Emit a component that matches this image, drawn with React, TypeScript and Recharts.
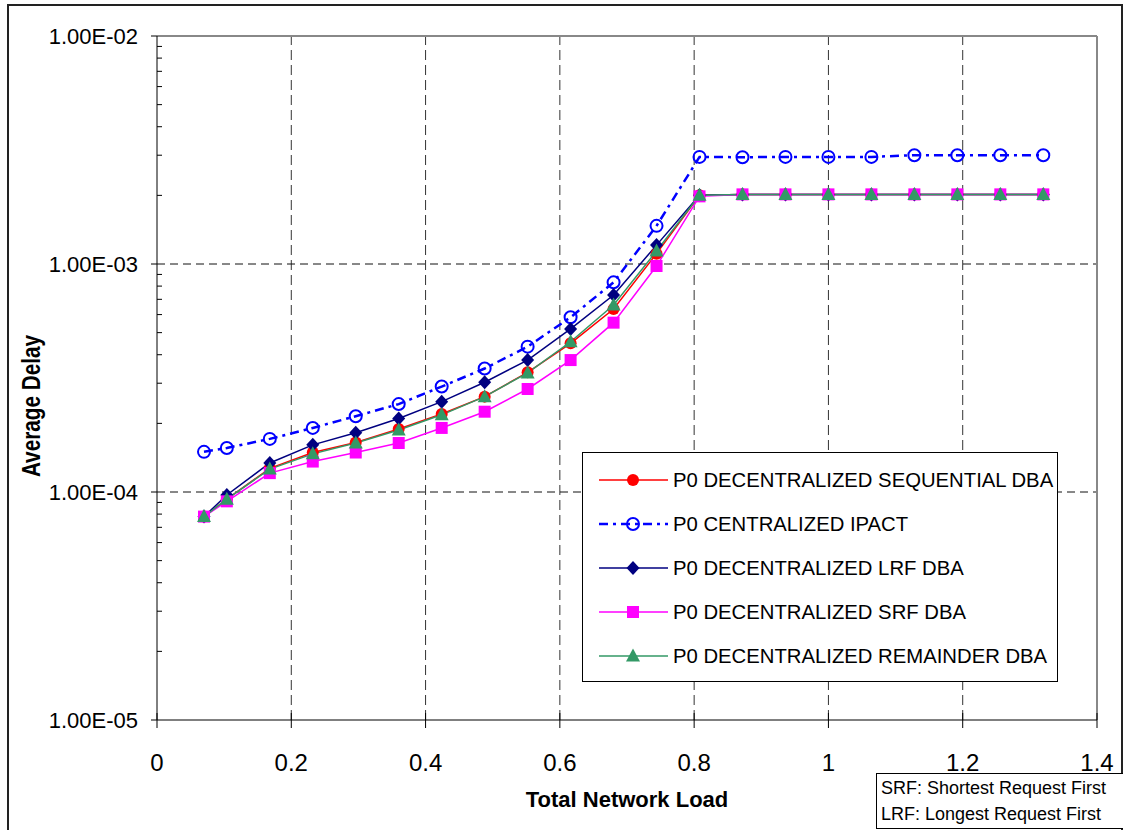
import React from "react";
import {
  LineChart,
  Line,
  XAxis,
  YAxis,
  Legend,
  ReferenceLine,
} from "recharts";

const FONT = '"Liberation Sans", Arial, sans-serif';

// total network load (x)
const loads = [
  0.07, 0.104, 0.168, 0.232, 0.296, 0.36, 0.424, 0.488, 0.552, 0.616, 0.68,
  0.744, 0.808, 0.872, 0.936, 1.0, 1.064, 1.128, 1.192, 1.256, 1.32,
];

// average delay per series
const sequential = [
  7.8e-5, 9.3e-5, 1.27e-4, 1.49e-4, 1.65e-4, 1.89e-4, 2.2e-4, 2.62e-4, 3.35e-4,
  4.49e-4, 6.35e-4, 1.11e-3, 2.0e-3, 2.02e-3, 2.02e-3, 2.02e-3, 2.02e-3,
  2.02e-3, 2.02e-3, 2.02e-3, 2.02e-3,
];
const ipact = [
  1.5e-4, 1.56e-4, 1.71e-4, 1.91e-4, 2.15e-4, 2.43e-4, 2.9e-4, 3.48e-4, 4.34e-4,
  5.84e-4, 8.31e-4, 1.47e-3, 2.95e-3, 2.94e-3, 2.95e-3, 2.95e-3, 2.95e-3,
  3.0e-3, 3.0e-3, 3.0e-3, 3.0e-3,
];
const lrf = [
  7.8e-5, 9.7e-5, 1.34e-4, 1.61e-4, 1.82e-4, 2.1e-4, 2.49e-4, 3.03e-4, 3.79e-4,
  5.19e-4, 7.31e-4, 1.21e-3, 2.0e-3, 2.02e-3, 2.02e-3, 2.02e-3, 2.02e-3,
  2.02e-3, 2.02e-3, 2.02e-3, 2.02e-3,
];
const srf = [
  7.8e-5, 9.1e-5, 1.21e-4, 1.36e-4, 1.49e-4, 1.64e-4, 1.91e-4, 2.25e-4, 2.83e-4,
  3.79e-4, 5.53e-4, 9.8e-4, 1.98e-3, 2.02e-3, 2.02e-3, 2.02e-3, 2.02e-3,
  2.02e-3, 2.02e-3, 2.02e-3, 2.02e-3,
];
const remainder = [
  7.8e-5, 9.3e-5, 1.26e-4, 1.47e-4, 1.64e-4, 1.87e-4, 2.18e-4, 2.62e-4, 3.33e-4,
  4.56e-4, 6.61e-4, 1.14e-3, 2.0e-3, 2.02e-3, 2.02e-3, 2.02e-3, 2.02e-3,
  2.02e-3, 2.02e-3, 2.02e-3, 2.02e-3,
];

const xTicks = [0, 0.2, 0.4, 0.6, 0.8, 1, 1.2, 1.4];
const xGrid = [0.2, 0.4, 0.6, 0.8, 1, 1.2];
const yTicks = [1e-5, 1e-4, 1e-3, 1e-2];
const yGrid = [1e-4, 1e-3];
const yMinor = [1e-5, 1e-4, 1e-3].flatMap((d) =>
  [2, 3, 4, 5, 6, 7, 8, 9].map((m) => m * d)
);
const yAllTicks = [...yTicks, ...yMinor].sort((a, b) => a - b);

const data = loads.map((x, i) => ({
  x,
  seq: sequential[i],
  ipact: ipact[i],
  lrf: lrf[i],
  srf: srf[i],
  rem: remainder[i],
}));

type Shape = "dot" | "ring" | "diamond" | "square" | "triangle";

const series: {
  key: string;
  name: string;
  color: string;
  shape: Shape;
  dash?: string;
  width: number;
}[] = [
  { key: "seq", name: "P0 DECENTRALIZED SEQUENTIAL DBA", color: "#ff0000", shape: "dot", width: 1.5 },
  { key: "ipact", name: "P0 CENTRALIZED IPACT", color: "#0000ff", shape: "ring", dash: "9 5 3 5", width: 2.5 },
  { key: "lrf", name: "P0 DECENTRALIZED LRF DBA", color: "#000080", shape: "diamond", width: 1.5 },
  { key: "srf", name: "P0 DECENTRALIZED SRF DBA", color: "#ff00ff", shape: "square", width: 1.5 },
  { key: "rem", name: "P0 DECENTRALIZED REMAINDER DBA", color: "#339966", shape: "triangle", width: 1.5 },
];

function Marker({ shape, color, cx, cy }: { shape: Shape; color: string; cx: number; cy: number }) {
  switch (shape) {
    case "dot":
      return <circle cx={cx} cy={cy} r={6} fill={color} />;
    case "ring":
      return <circle cx={cx} cy={cy} r={6} fill="none" stroke={color} strokeWidth={2} />;
    case "diamond":
      return <polygon points={`${cx},${cy - 7} ${cx + 6.5},${cy} ${cx},${cy + 7} ${cx - 6.5},${cy}`} fill={color} />;
    case "square":
      return <rect x={cx - 6} y={cy - 6} width={12} height={12} fill={color} />;
    default:
      return <polygon points={`${cx},${cy - 7.5} ${cx + 7},${cy + 5.5} ${cx - 7},${cy + 5.5}`} fill={color} />;
  }
}

const fmtExp = (v: number) => {
  const [m, e] = v.toExponential(2).split("e");
  const n = parseInt(e, 10);
  return `${m.toUpperCase()}E${n < 0 ? "-" : "+"}${String(Math.abs(n)).padStart(2, "0")}`;
};

// y tick: majors get a label and an outside tick, minors only a short inside tick
const Y_TICK = 6;
const Y_GAP = 13;
function YTick(props: any) {
  const { x, y, payload } = props;
  const v = payload.value;
  const ax = x + Y_TICK + Y_GAP;
  const major = yTicks.some((t) => Math.abs(t - v) / t < 1e-9);
  if (!major) {
    return <line x1={ax} x2={ax + 5} y1={y} y2={y} stroke="#000" strokeWidth={1} />;
  }
  return (
    <g>
      <line x1={ax - Y_TICK} x2={ax} y1={y} y2={y} stroke="#000" strokeWidth={1} />
      <text x={x} y={y} dy="0.355em" textAnchor="end" fontSize={22} fontFamily={FONT} fill="#000">
        {fmtExp(v)}
      </text>
    </g>
  );
}

// x tick: crosses the axis line, label below
const X_TICK = 8;
const X_GAP = 26;
function XTick(props: any) {
  const { x, y, payload } = props;
  const ay = y - X_TICK - X_GAP;
  return (
    <g>
      <line x1={x} x2={x} y1={ay - 7} y2={ay + X_TICK} stroke="#000" strokeWidth={1} />
      <text x={x} y={y} dy="0.71em" textAnchor="middle" fontSize={24} fontFamily={FONT} fill="#000">
        {payload.value}
      </text>
    </g>
  );
}

function LegendBox() {
  return (
    <div
      style={{
        width: 476,
        height: 230,
        boxSizing: "border-box",
        border: "1.5px solid #000",
        background: "#fff",
        paddingTop: 5,
        fontFamily: FONT,
      }}
    >
      {series.map((s) => (
        <div key={s.key} style={{ display: "flex", alignItems: "center", height: 44, whiteSpace: "nowrap" }}>
          <svg width={90} height={20} style={{ marginLeft: 16, flexShrink: 0 }}>
            <line x1={0} y1={10} x2={69} y2={10} stroke={s.color} strokeWidth={s.width} strokeDasharray={s.dash} />
            <Marker shape={s.shape} color={s.color} cx={34} cy={10} />
          </svg>
          <span style={{ fontSize: 20.3, color: "#000", marginLeft: -16 }}>{s.name}</span>
        </div>
      ))}
    </div>
  );
}

export default function App() {
  return (
    <div style={{ position: "absolute", left: 0, top: 0, width: 1123, height: 830, overflow: "hidden", background: "#fff" }}>
      <div
        style={{
          position: "absolute",
          left: 7,
          top: 4,
          width: 1116,
          height: 840,
          boxSizing: "border-box",
          border: "2px solid #222",
        }}
      />
      <div style={{ position: "absolute", left: 0, top: 0 }}>
        <LineChart width={1123} height={830} data={data} margin={{ top: 36, right: 26, bottom: 20, left: 27 }}>
          <XAxis
            dataKey="x"
            type="number"
            domain={[0, 1.4]}
            ticks={xTicks}
            interval={0}
            allowDataOverflow
            stroke="#000"
            tickSize={X_TICK}
            tickMargin={X_GAP}
            tickLine={false}
            height={90}
            tick={<XTick />}
            label={{
              content: (p: any) => {
                const vb = p.viewBox;
                return (
                  <text x={vb.x + vb.width / 2} y={vb.y + 87} textAnchor="middle" fontSize={22} fontWeight="bold" fontFamily={FONT} fill="#000">
                    Total Network Load
                  </text>
                );
              },
            }}
          />
          <YAxis
            yAxisId="main"
            type="number"
            scale="log"
            domain={[1e-5, 1e-2]}
            ticks={yAllTicks}
            interval={0}
            allowDataOverflow
            width={130}
            stroke="#000"
            tickSize={Y_TICK}
            tickMargin={Y_GAP}
            tickLine={false}
            tick={<YTick />}
            label={{
              content: () => {
                const cx = 40;
                const cy = 406;
                return (
                  <text
                    x={0}
                    y={0}
                    transform={`translate(${cx} ${cy}) rotate(-90) scale(0.83 1)`}
                    textAnchor="middle"
                    fontSize={25}
                    fontWeight="bold"
                    fontFamily={FONT}
                    fill="#000"
                  >
                    Average Delay
                  </text>
                );
              },
            }}
          />
          {xGrid.map((v) => (
            <ReferenceLine key={`vx${v}`} yAxisId="main" x={v} stroke="#333" strokeDasharray="10 5" />
          ))}
          {yGrid.map((v) => (
            <ReferenceLine key={`hy${v}`} yAxisId="main" y={v} stroke="#111" strokeDasharray="8 5" />
          ))}
          <ReferenceLine yAxisId="main" y={1e-2} stroke="#888" strokeWidth={2} />
          <ReferenceLine yAxisId="main" x={1.4} stroke="#888" strokeWidth={2} />
          <Legend
            layout="vertical"
            align="center"
            verticalAlign="middle"
            wrapperStyle={{ left: 582, top: 452, width: 476, height: 230 }}
            content={() => <LegendBox />}
          />
          {series.map((s) => (
            <Line
              key={s.key}
              yAxisId="main"
              dataKey={s.key}
              name={s.name}
              stroke={s.color}
              strokeWidth={s.width}
              strokeDasharray={s.dash}
              isAnimationActive={false}
              activeDot={false}
              dot={(p: any) => (
                <Marker key={`${s.key}-${p.index}`} shape={s.shape} color={s.color} cx={p.cx} cy={p.cy} />
              )}
            />
          ))}
        </LineChart>
      </div>
      <div
        style={{
          position: "absolute",
          left: 876,
          top: 773,
          width: 260,
          height: 56,
          boxSizing: "border-box",
          border: "1.5px solid #000",
          background: "#fff",
          fontFamily: FONT,
          fontSize: 18,
          lineHeight: "26px",
          paddingLeft: 4,
          paddingTop: 1,
          color: "#000",
        }}
      >
        <div>SRF: Shortest Request First</div>
        <div>LRF: Longest Request First</div>
      </div>
    </div>
  );
}
